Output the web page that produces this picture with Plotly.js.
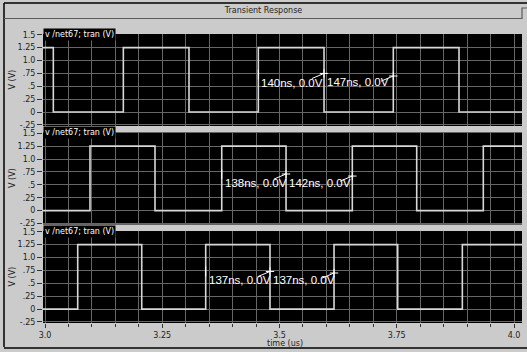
<!DOCTYPE html>
<html>
<head>
<meta charset="utf-8">
<script src="https://cdn.plot.ly/plotly-3.0.1.min.js"></script>
<style>html,body{margin:0;padding:0;background:#cbcbcb;}#chart{width:527px;height:352px;}</style>
</head>
<body>
<div id="chart"></div>
<script>
// ---- data ----
const chartTitle = 'Transient Response';
const signalLabel = 'v /net67; tran (V)';
const xTitle = 'time (us)';
const yTitle = 'V (V)';
const xTickVals = [3.0, 3.25, 3.5, 3.75, 4.0];
const xTickText = ['3.0', '3.25', '3.5', '3.75', '4.0'];
const yTickVals = [-0.25, 0, 0.25, 0.5, 0.75, 1.0, 1.25, 1.5];
const yTickText = ['-.25', '0', '.25', '.5', '.75', '1.0', '1.25', '1.5'];
const lowLevel = 0;
const highLevel = 1.25;
const timeStart = 2.99;
const timeEnd = 4.03;

// edge times (us) of each panel's square wave, and starting level
const edges1 = [3.0177, 3.1670, 3.3070, 3.4548, 3.5949, 3.7426, 3.8827];
const edges2 = [3.0959, 3.2345, 3.3768, 3.5139, 3.6552, 3.7925, 3.9345];
const edges3 = [3.0697, 3.2062, 3.3426, 3.4797, 3.6162, 3.7520, 3.8898];
const startLevels = [highLevel, lowLevel, lowLevel];

// delta markers (time us, voltage V) and their labels
const markT1 = [3.4548, 3.5949, 3.7426];
const markV1 = [0.73, 0.75, 0.70];
const deltaText1 = ['140ns, 0.0V', '147ns, 0.0V'];
const markT2 = [3.3768, 3.5139, 3.6552];
const markV2 = [0.71, 0.71, 0.67];
const deltaText2 = ['138ns, 0.0V', '142ns, 0.0V'];
const markT3 = [3.3426, 3.4797, 3.6162];
const markV3 = [0.73, 0.73, 0.70];
const deltaText3 = ['137ns, 0.0V', '137ns, 0.0V'];

// ---- styling ----
const BG = '#cbcbcb';
const GRID = '#666666';
const WAVE = '#d8d8d8';
const FONT = 'DejaVu Sans';
const TXT = '#1e1e1e';
const domains = [[0.6817, 1.0], [0.3408, 0.6592], [0.0, 0.3183]];
const xRefs = ['x2', 'x3', 'x'];
const yRefs = ['y', 'y2', 'y3'];

// paper coordinates relative to plot area: x px 43..522, y px 34..323
const px = v => (v - 43) / 479;
const py = v => (323 - v) / 289;

function stepWave(edges, start) {
  const xs = [timeStart], ys = [start];
  let lvl = start;
  edges.forEach(t => { lvl = (lvl === highLevel) ? lowLevel : highLevel; xs.push(t); ys.push(lvl); });
  xs.push(timeEnd); ys.push(lvl);
  return {xs, ys};
}

const allEdges = [edges1, edges2, edges3];
const allMarkT = [markT1, markT2, markT3];
const allMarkV = [markV1, markV2, markV3];
const allDelta = [deltaText1, deltaText2, deltaText3];

const traces = [];
const annotations = [];
for (let i = 0; i < 3; i++) {
  const w = stepWave(allEdges[i], startLevels[i]);
  traces.push({x: w.xs, y: w.ys, type: 'scatter', mode: 'lines', line: {shape: 'hv', color: WAVE, width: 1.6},
    xaxis: xRefs[i], yaxis: yRefs[i], hoverinfo: 'skip', showlegend: false});
  const mt = allMarkT[i], mv = allMarkV[i];
  const lx = [], ly = [];
  [1, 2].forEach(k => { lx.push(mt[k] - 0.026, mt[k], null); ly.push(mv[k] - 0.1, mv[k], null); });
  traces.push({x: lx, y: ly, type: 'scatter', mode: 'lines', line: {color: '#ffffff', width: 1},
    xaxis: xRefs[i], yaxis: yRefs[i], hoverinfo: 'skip', showlegend: false});
  traces.push({x: mt.slice(1), y: mv.slice(1), type: 'scatter', mode: 'markers',
    marker: {symbol: 'cross-thin', size: 6, line: {color: '#ffffff', width: 1}},
    xaxis: xRefs[i], yaxis: yRefs[i], hoverinfo: 'skip', showlegend: false});
  traces.push({x: mt.slice(0, 1), y: mv.slice(0, 1), type: 'scatter', mode: 'markers',
    marker: {symbol: 'line-ns', size: 7, line: {color: '#ffffff', width: 1}},
    xaxis: xRefs[i], yaxis: yRefs[i], hoverinfo: 'skip', showlegend: false});
  for (let k = 0; k < 2; k++) {
    annotations.push({x: mt[k], y: mv[k], xref: xRefs[i], yref: yRefs[i], text: allDelta[i][k],
      showarrow: false, xanchor: 'left', yanchor: 'middle', xshift: 1, yshift: -9,
      font: {family: 'Liberation Sans', size: 11.5, color: '#ffffff'}});
  }
  annotations.push({x: 0, y: domains[i][1], xref: 'paper', yref: 'paper', text: signalLabel,
    showarrow: false, xanchor: 'left', yanchor: 'middle', bgcolor: '#000000', borderpad: 1,
    font: {family: FONT, size: 8, color: '#ffffff'}});
  // y-axis title
  annotations.push({x: px(19), y: (domains[i][0] + domains[i][1]) / 2, xref: 'paper', yref: 'paper',
    text: yTitle, textangle: -90, showarrow: false, xanchor: 'right', yanchor: 'middle',
    font: {family: FONT, size: 8, color: TXT}});
}
// x-axis title
annotations.push({x: px(285), y: py(343), xref: 'paper', yref: 'paper', text: xTitle,
  showarrow: false, xanchor: 'center', yanchor: 'middle', borderpad: 0,
  font: {family: FONT, size: 8, color: TXT}});

function xAxis(anchor, showLabels) {
  const a = {anchor: anchor, range: [2.9957, 4.017], tickvals: xTickVals, ticktext: xTickText,
    showgrid: true, gridcolor: GRID, gridwidth: 1, zeroline: false, showline: false,
    automargin: false, fixedrange: true,
    tickfont: {family: FONT, size: 8, color: TXT},
    minor: {dtick: 0.05, tick0: 3.0, showgrid: true, gridcolor: GRID, gridwidth: 1}};
  if (showLabels) {
    a.ticks = 'outside'; a.ticklen = 4; a.tickcolor = '#333'; a.showticklabels = true;
    a.minor.ticks = 'outside'; a.minor.ticklen = 3; a.minor.tickcolor = '#333';
  } else {
    a.ticks = ''; a.showticklabels = false; a.matches = 'x';
  }
  return a;
}
function yAxis(domain) {
  return {domain: domain, range: [-0.27, 1.515], tickvals: yTickVals, ticktext: yTickText,
    ticks: 'outside', ticklen: 5, tickcolor: '#333', showgrid: true, gridcolor: GRID, gridwidth: 1,
    zeroline: false, showline: false, automargin: false, fixedrange: true,
    tickfont: {family: FONT, size: 8, color: TXT}};
}

const shapes = [
  {type: 'line', xref: 'paper', yref: 'paper', x0: px(4), x1: px(530), y0: py(3), y1: py(3), line: {color: '#000', width: 1.5}},
  {type: 'line', xref: 'paper', yref: 'paper', x0: px(4), x1: px(4), y0: py(3), y1: py(347), line: {color: '#000', width: 1.5}},
  {type: 'line', xref: 'paper', yref: 'paper', x0: px(4), x1: px(530), y0: py(348), y1: py(348), line: {color: '#000', width: 1.5}},
  {type: 'path', xref: 'paper', yref: 'paper',
    path: 'M ' + px(4) + ' ' + py(18.5) + ' L ' + px(522) + ' ' + py(18.5) + ' L ' + px(522) + ' ' + py(8) + ' L ' + px(530) + ' ' + py(8),
    line: {color: '#5a5a5a', width: 1.2}}
];

const layout = {
  width: 527, height: 352,
  margin: {l: 43, r: 5, t: 34, b: 29},
  paper_bgcolor: BG, plot_bgcolor: '#000000',
  title: {text: chartTitle, x: 0.5, xanchor: 'center', y: 1 - 10 / 352, yanchor: 'middle',
    font: {family: FONT, size: 8, color: TXT}},
  xaxis: xAxis('y3', true),
  xaxis2: xAxis('y', false),
  xaxis3: xAxis('y2', false),
  yaxis: yAxis(domains[0]),
  yaxis2: yAxis(domains[1]),
  yaxis3: yAxis(domains[2]),
  annotations: annotations,
  shapes: shapes,
  showlegend: false,
  hovermode: false
};

Plotly.newPlot('chart', traces, layout, {staticPlot: true, displayModeBar: false});
</script>
</body>
</html>
